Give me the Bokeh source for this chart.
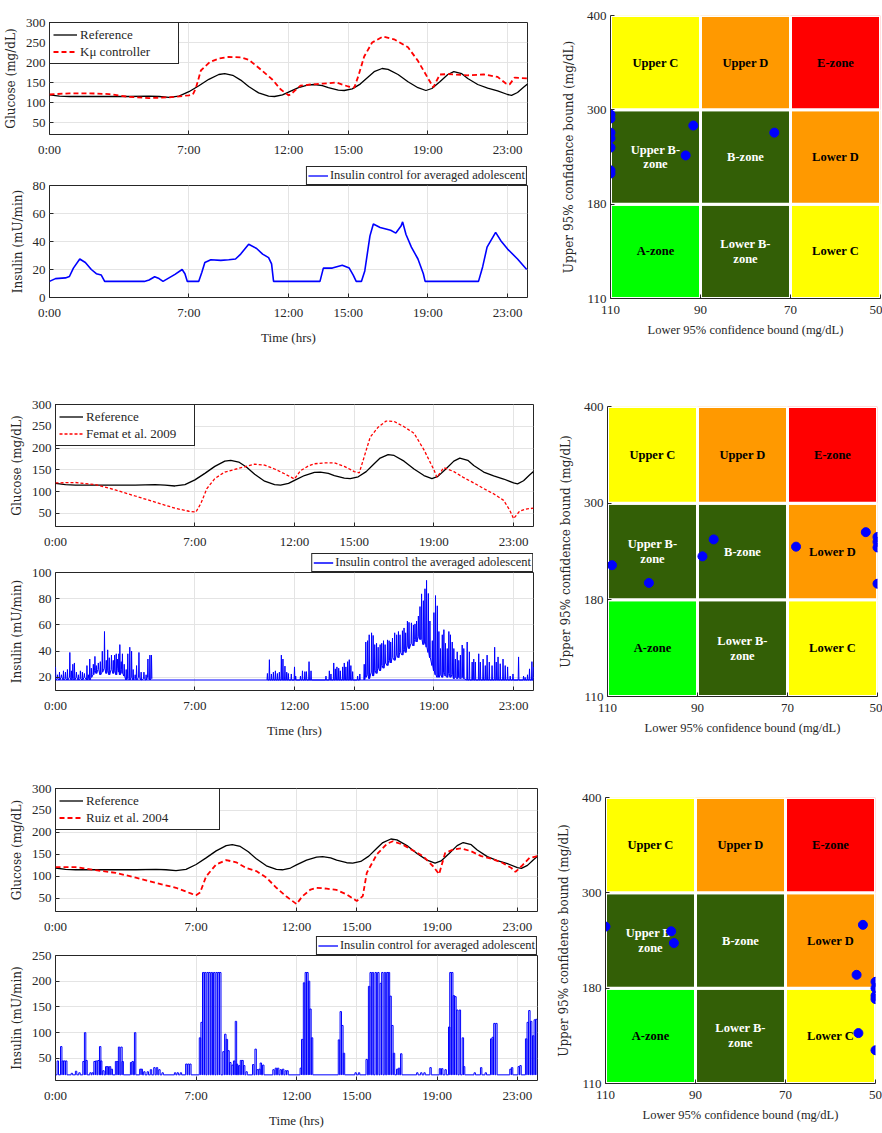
import numpy as np
from bokeh.plotting import figure
from bokeh.layouts import column, row
from bokeh.models import Range1d, FixedTicker, Legend, LegendItem
from bokeh.core.properties import value
from bokeh.embed import file_html
from bokeh.resources import INLINE

# ---------------------------------------------------------------- data
hour_ticks = [0, 7, 12, 15, 19, 23]
hour_labels = ["0:00", "7:00", "12:00", "15:00", "19:00", "23:00"]

# reference glucose trajectory (same in all three panels)
ref_t = [0, 0.5, 1, 2, 3, 4, 5, 5.5, 6, 6.5, 7, 7.5, 8, 8.5, 8.8, 9.2, 9.6, 10, 10.5, 11, 11.3, 11.7,
         12, 12.5, 13, 13.3, 13.7, 14, 14.5, 14.8, 15.2, 15.6, 16, 16.3, 16.7, 17, 17.5, 18, 18.5, 18.9,
         19.2, 19.6, 20, 20.3, 20.7, 21, 21.5, 22, 22.5, 23, 23.2, 23.5, 23.8, 24]
ref_g = [119, 116, 115, 115, 115, 115, 116, 115, 113, 116, 127, 142, 158, 170, 172, 168, 156, 140, 124, 116, 115, 119,
         126, 137, 144, 145, 142, 137, 131, 130, 134, 146, 164, 177, 185, 183, 170, 152, 137, 130,
         135, 152, 170, 177, 172, 160, 145, 136, 129, 120, 118, 125, 138, 146]

# K_mu controller
km_t = [0, 1, 2, 3, 4, 5, 6, 6.25, 7, 7.2, 7.35, 7.6, 8.05, 8.5, 9, 9.6, 10, 10.5, 11.2, 11.6, 12.0, 12.1,
        12.6, 13.1, 13.7, 14.4, 15.0, 15.3, 15.5, 15.8, 16.2, 16.75, 17.3, 18.0, 18.5, 19.0, 19.27, 19.6,
        20.0, 21.0, 21.8, 22.5, 22.9, 23.1, 23.35, 24]
km_g = [120, 123, 123, 121, 114, 111, 113, 114, 118, 120, 136, 180, 201, 210, 214, 213, 207, 187, 157, 133, 118, 120,
        142, 145, 147, 150, 140, 137, 165, 215, 250, 265, 258, 238, 204, 161, 138, 170,
        171, 168, 170, 164, 148, 145, 162, 160]

# Femat et al. 2009
fe_t = [0, 1, 2, 3, 4, 5, 6, 6.7, 7.05, 7.3, 7.6, 8, 8.5, 9, 9.5, 10, 10.5, 11, 11.5, 12, 12.3, 12.7, 13,
        13.5, 14, 14.5, 15, 15.25, 15.5, 15.8, 16.2, 16.6, 17, 17.5, 18, 18.5, 19, 19.15, 19.5, 20, 20.5,
        21, 21.5, 22, 22.5, 22.8, 23.0, 23.3, 23.6, 24]
fe_g = [120, 121, 116, 104, 90, 76, 62, 55, 53, 73, 107, 130, 145, 151, 157, 163, 161, 152, 141, 129, 148, 159, 164,
        166, 166, 158, 146, 143, 180, 225, 248, 262, 261, 249, 234, 196, 150, 133, 155, 146, 132,
        120, 107, 95, 80, 58, 38, 55, 60, 62]

# Ruiz et al. 2004
ru_t = [0, 1, 2, 3, 4, 5, 6, 6.8, 7.0, 7.2, 7.5, 8, 8.5, 9, 9.5, 10, 10.5, 11, 11.5, 12.0, 12.3, 12.7, 13,
        13.5, 14, 14.5, 15.0, 15.3, 15.5, 16, 16.5, 16.8, 17.3, 17.8, 18.3, 18.8, 19.1, 19.4, 19.8, 20.2,
        20.7, 21.2, 21.7, 22.2, 22.7, 22.9, 23.2, 23.6, 24]
ru_g = [121, 121, 114, 108, 97, 85, 74, 60, 57, 63, 100, 127, 137, 132, 119, 112, 97, 74, 54, 37, 55, 70, 74,
        72, 69, 59, 44, 55, 108, 150, 174, 180, 172, 159, 146, 123, 105, 153, 161, 164,
        157, 146, 140, 132, 119, 110, 123, 142, 146]

# insulin, panel 1 (smooth)
ins1_t = [0, 0.3, 0.8, 1.0, 1.2, 1.52, 1.8, 2.1, 2.35, 2.6, 2.77, 4.76, 5.0, 5.28, 5.5, 5.7, 6.0, 6.3, 6.66, 6.8,
          6.92, 7.49, 7.65, 7.8, 8.1, 8.6, 9.0, 9.34, 9.6, 10.0, 10.4, 10.7, 11.0, 11.15, 11.25, 13.58, 13.75,
          14.2, 14.7, 15.05, 15.25, 15.4, 15.66, 15.83, 16.09, 16.26, 16.6, 17.13, 17.39, 17.65, 17.73, 17.9,
          18.17, 18.5, 18.77, 18.86, 21.54, 21.75, 21.97, 22.4, 22.66, 23.0, 23.5, 23.96]
ins1_v = [11.5, 13.5, 14, 15, 21, 27.5, 25, 20, 17, 16, 11.5, 11.5, 12.5, 14.8, 13.5, 11.5, 14, 16.5, 20, 17,
          11.5, 11.5, 18, 25, 27, 26.5, 27, 27.5, 31, 38, 35, 31, 28.5, 24, 11.5, 11.5, 21,
          21, 23, 21, 16, 11.5, 11.5, 19, 44, 52.5, 50, 48, 46, 51, 54, 45,
          36, 27.5, 17, 11.5, 11.5, 22, 36, 46.5, 40.6, 34.6, 27.5, 20]

# insulin, panel 2 (oscillating): spike times, peaks and troughs
ins2a_t = [0.0, 0.1, 0.2, 0.3, 0.4, 0.5, 0.6, 0.72, 0.8, 0.87, 0.95, 1.05, 1.15, 1.25, 1.35, 1.45, 1.58, 1.65,
           1.72, 1.8, 1.9, 1.98, 2.05, 2.15, 2.25, 2.35, 2.46, 2.55, 2.62, 2.7, 2.81, 2.9, 2.97, 3.05, 3.12,
           3.18, 3.23, 3.3, 3.36, 3.45, 3.55, 3.63, 3.73, 3.82, 3.9, 4.0, 4.07, 4.19, 4.3, 4.44, 4.55, 4.64,
           4.74, 4.82]
ins2a_hi = [28, 22, 24, 22, 25, 24, 26, 39, 25, 30, 31, 24, 22, 25, 24, 23, 29, 22, 34, 27, 30, 36, 29, 31, 32,
            40, 55, 33, 41, 35, 37, 33, 37, 38, 34, 38, 45, 32, 38, 30, 26, 38, 43, 40, 26, 22, 29, 39, 24, 24,
            22, 34, 37, 37]
ins2a_lo = [18, 19, 18, 20, 18, 19, 18, 20, 18, 19, 18, 20, 18, 19, 18, 20, 18, 19, 18, 20,
            22, 25, 23, 26, 22, 24, 27, 23, 25, 22, 26, 23, 25, 22, 27, 24, 22, 26, 23, 21,
            18, 19, 18, 20, 18, 19, 18, 20, 18, 19, 18, 20, 18, 19]
ins2b_t = [10.64, 10.74, 10.84, 10.94, 11.04, 11.14, 11.24, 11.34, 11.42, 11.52, 11.61, 11.69, 11.84, 12.0,
           12.06, 12.3, 12.4, 12.52, 12.6, 12.73, 12.83,
           13.58, 13.75, 13.83, 13.97, 14.05, 14.13, 14.22, 14.3, 14.42, 14.5, 14.58, 14.67, 14.75, 14.83,
           14.92, 15.17, 15.28]
ins2b_hi = [23, 33.5, 22.6, 24, 25, 23, 24, 37, 34, 28.6, 24, 23, 22.6, 28, 21, 21, 25, 24.4, 24.4, 32, 25,
            21, 25, 22.6, 31, 26.5, 28, 27, 25, 28, 31, 28, 32, 33.5, 29, 24.4, 21, 22.6]
ins2b_lo = [18, 18, 18, 18, 18, 18, 18, 18, 18, 18, 18, 18, 18, 18, 18, 18, 18, 18, 18, 18, 18,
            18, 18, 18, 18, 18, 18, 18, 18, 18, 18, 18, 18, 18, 18, 18, 18, 18]
ins2c_t = [15.5, 15.58, 15.67, 15.75, 15.87, 15.95, 16.03, 16.12, 16.2, 16.3, 16.38, 16.47, 16.55, 16.67,
           16.75, 16.83, 16.92, 17.03, 17.13, 17.22, 17.3, 17.42, 17.5, 17.58, 17.67, 17.75, 17.87, 17.97,
           18.05, 18.13, 18.22, 18.3, 18.38, 18.47, 18.55, 18.63, 18.72, 18.8, 18.92, 19.0, 19.08, 19.17]
ins2c_hi = [30, 47, 48, 52.5, 54, 52, 45, 46, 43, 45, 46, 48, 45, 48.6, 48, 47, 50, 54, 52.5, 55, 52.5, 55.6,
            57.7, 54, 63, 62, 61.6, 60, 60.8, 63, 66.8, 74, 83.7, 78.5, 87.6, 94, 84, 63, 48, 69.4, 82.4, 74.6]
ins2c_lo = [18, 20, 22, 19, 24, 21, 25, 23, 27, 25, 29, 27, 31, 29, 33, 31, 35, 33, 37, 35, 39, 37, 41, 39,
            44, 42, 46, 44, 49, 47, 51, 49, 49, 45, 47, 43, 39, 35, 29, 25, 22, 20]
ins2d_t = [19.25, 19.33, 19.42, 19.5, 19.58, 19.67, 19.75, 19.83, 19.92, 20.0, 20.08, 20.17, 20.25, 20.33,
           20.42, 20.5, 20.67, 20.78, 20.92, 21.0, 21.08, 21.25, 21.33, 21.47, 21.58, 21.67, 21.78, 21.92,
           22.05, 22.13, 22.22, 22.33, 22.47, 22.58, 22.7, 22.83, 22.97, 23.25, 23.5, 23.58, 23.7, 23.8,
           23.92, 24.0]
ins2d_hi = [55, 42, 52.5, 56.4, 46, 42, 55, 52.5, 47, 42, 34, 39.5, 33, 37, 44.7, 42, 47, 39.5, 31.7, 34,
            31.7, 38, 31.7, 34, 29, 37, 31.7, 29, 43, 31.7, 35.6, 30.4, 34, 29, 28, 21, 22.6, 35.6, 21, 20,
            22, 26.5, 32, 28]
ins2d_lo = [20, 22, 20, 24, 21, 20, 23, 20, 22, 19, 20, 19, 20, 19, 20, 19, 18, 18, 18, 18, 18, 18, 18, 18,
            18, 18, 18, 18, 18, 18, 18, 18, 18, 18, 18, 18, 18, 18, 18, 18, 18, 18, 18, 18]
ins2_base = 18

# insulin, panel 3 (pulses): pulse start times and pulse heights
ins3_t = [0.08, 0.25, 0.33, 0.41, 0.50, 0.78, 0.99, 1.16, 1.36, 1.44, 1.51, 1.71, 1.82, 1.91, 1.99, 2.10, 2.19,
          2.24, 2.35, 2.49, 2.57, 2.68, 2.77, 2.98, 3.07, 3.13, 3.25, 3.31, 3.73, 3.81, 3.93, 4.19, 4.26, 4.39,
          4.56, 4.72, 4.89, 5.02, 5.14, 5.30, 5.92, 6.05, 6.21, 6.48, 6.58, 6.68, 7.16, 7.24, 7.32, 7.42,
          7.54, 7.64, 7.75, 7.87, 7.99, 8.09, 8.17, 8.33, 8.42, 8.50, 8.58, 8.67, 8.78, 8.86, 8.95, 9.00,
          9.11, 9.20, 9.28, 9.36, 9.48, 9.81, 9.93, 10.02, 10.12, 10.19, 10.31, 10.82, 10.94, 11.05, 11.18,
          11.30, 11.43, 11.52, 12.18, 12.25, 12.34, 12.43, 12.51, 12.59, 12.66, 12.74, 14.08, 14.17, 14.25,
          14.33, 14.91, 15.08, 15.46, 15.58, 15.66, 15.77, 15.91, 16.04, 16.16, 16.24, 16.37, 16.49, 16.57,
          16.65, 16.74, 16.82, 16.98, 17.07, 17.18, 17.98, 18.18, 18.34, 18.64, 19.11, 19.22, 19.39, 19.57,
          19.63, 19.72, 19.80, 19.88, 19.97, 20.10, 20.25, 20.31, 20.84, 21.16, 21.39, 21.66, 21.74, 21.82,
          21.92, 22.62, 22.70, 23.03, 23.12, 23.40, 23.48, 23.56, 23.65, 23.75, 23.83, 23.91]
ins3_v = [45, 73, 45, 45, 45, 21, 25, 22, 44, 100, 46, 22, 22, 44, 45, 46, 73, 45, 26, 34, 34, 34, 29, 44, 44,
          72, 72, 44, 42, 44, 100, 29, 29, 24, 24, 28, 32, 32, 28, 22, 22, 22, 22, 39, 39, 39, 90, 120, 217,
          217, 217, 217, 217, 217, 217, 217, 217, 63, 97, 87, 65, 42, 37, 45, 122, 39, 36, 46, 46, 36, 24, 38,
          68, 28, 29, 41, 37, 28, 31, 31, 28, 29, 26, 26, 31, 87, 197, 217, 217, 200, 146, 90, 86, 141, 114,
          60, 22, 22, 48, 190, 217, 217, 217, 217, 196, 217, 217, 217, 217, 171, 114, 60, 29, 31, 59, 22, 22,
          22, 32, 30, 30, 28, 111, 217, 217, 172, 170, 144, 144, 90, 34, 22, 32, 22, 88, 91, 118, 118, 29, 32,
          34, 36, 88, 120, 143, 122, 94, 125, 126]
ins3_base = 18

# CVGA
cvga_x_edges = [110, 90, 70, 50]
cvga_y_edges = [110, 180, 300, 400]
zone_names = ["A-zone", "Lower B-\nzone", "Lower C",
              "Upper B-\nzone", "B-zone", "Lower D",
              "Upper C", "Upper D", "E-zone"]
zone_colors = ["#00FF00", "#335F06", "#FFFF00",
               "#335F06", "#335F06", "#FF9900",
               "#FFFF00", "#FF9900", "#FF0000"]
zone_text_colors = ["black", "white", "black",
                    "white", "white", "black",
                    "black", "black", "black"]

cv1_x = [110, 110, 110, 110, 110, 110, 110, 91.6, 93.3, 73.6]
cv1_y = [294, 289, 271, 264, 252, 223, 219, 280, 242, 271]
cv2_x = [109.0, 100.8, 88.9, 86.4, 68.1, 52.6, 50, 50, 50, 50]
cv2_y = [223, 201, 234, 255, 246, 264, 258, 252, 245, 200]
cv3_x = [110, 95.4, 94.8, 52.8, 54.2, 50, 50, 50, 50, 53.8, 50]
cv3_y = [257.5, 251.6, 236.8, 259.7, 196.8, 188, 180, 174.4, 172, 147, 134.4]

# ---------------------------------------------------------------- style
SERIF = "Liberation Serif"
LABFONT = "DejaVu Serif"
INK = "#262626"
GRID = "#e4e4e4"
BLUE = "#0000FF"
OVERLAP = 8   # insulin panel's top border slides under the legend strip


def style_axis(ax, size="13px"):
    ax.axis_line_color = None
    ax.major_tick_in = 4
    ax.major_tick_out = 0
    ax.major_tick_line_color = INK
    ax.minor_tick_line_color = None
    ax.major_label_text_font = SERIF
    ax.major_label_text_font_size = size
    ax.major_label_text_color = INK


def ts_fig(width, height, left, right, top, bottom, y0, y1, yticks, ylabel, xlabel=None):
    p = figure(width=width, height=height, x_range=Range1d(0, 24), y_range=Range1d(y0, y1),
               output_backend="svg", toolbar_location=None,
               min_border_left=left, min_border_right=right,
               min_border_top=top, min_border_bottom=bottom)
    p.background_fill_color = "white"
    p.border_fill_color = "white"
    p.outline_line_color = INK
    p.outline_line_width = 1
    p.outline_line_alpha = 1
    p.xaxis.ticker = FixedTicker(ticks=hour_ticks)
    p.xaxis.major_label_overrides = dict(zip(hour_ticks, hour_labels))
    p.yaxis.ticker = FixedTicker(ticks=yticks)
    style_axis(p.xaxis[0])
    style_axis(p.yaxis[0])
    p.xaxis.major_label_standoff = 7
    p.yaxis.major_label_standoff = 4
    p.yaxis.axis_label = ylabel
    p.yaxis.axis_label_text_font = LABFONT
    p.yaxis.axis_label_text_font_size = "12px"
    p.yaxis.axis_label_text_font_style = "normal"
    p.yaxis.axis_label_text_color = INK
    p.yaxis.axis_label_standoff = 5
    if xlabel:
        p.xaxis.axis_label = xlabel
        p.xaxis.axis_label_text_font = SERIF
        p.xaxis.axis_label_text_font_size = "13px"
        p.xaxis.axis_label_text_font_style = "normal"
        p.xaxis.axis_label_text_color = INK
        p.xaxis.axis_label_standoff = 7
    p.xgrid.grid_line_color = GRID
    p.ygrid.grid_line_color = GRID
    return p


def insulin_fig(width, height, left, right, bottom, y0, y1, yticks):
    p = ts_fig(width, height, left, right, OVERLAP, bottom, y0, y1, yticks, "Insulin (mU/min)", "Time (hrs)")
    p.border_fill_alpha = 0
    try:
        p.margin = (-OVERLAP, 0, 0, 0)
    except Exception:
        pass
    return p


def glucose_panel(width, height, left, right, top, bottom, ctrl_t, ctrl_g, ctrl_label, dash, lw, label_w):
    p = ts_fig(width, height, left, right, top, bottom, 20, 300, [50, 100, 150, 200, 250, 300],
               "Glucose (mg/dL)")
    r_ref = p.line(ref_t, ref_g, line_color="black", line_width=1.3)
    r_ctl = p.line(ctrl_t, ctrl_g, line_color="#FF0000", line_width=lw, line_dash=dash)
    leg = Legend(items=[LegendItem(label="Reference", renderers=[r_ref]),
                        LegendItem(label=ctrl_label, renderers=[r_ctl])],
                 location="top_left", margin=0, padding=3, spacing=0,
                 border_line_color=INK, border_line_width=1, border_line_alpha=1,
                 background_fill_color="white", background_fill_alpha=1,
                 label_text_font=SERIF, label_text_font_size="13px", label_text_color=INK,
                 glyph_width=24, glyph_height=17, label_height=17, label_standoff=3, label_width=label_w)
    p.add_layout(leg)
    return p


def legend_strip(width, height, left, right, text, series_t, series_v):
    """A thin strip right above an insulin panel that carries its legend box.
    The series is plotted here only to give the legend its glyph; it lies outside this strip's range."""
    p = figure(width=width, height=height, x_range=Range1d(0, 24), y_range=Range1d(-2, -1),
               output_backend="svg", toolbar_location=None,
               x_axis_location=None, y_axis_location=None,
               min_border_left=left, min_border_right=right, min_border_top=0, min_border_bottom=0)
    p.outline_line_color = None
    p.background_fill_color = "white"
    p.border_fill_color = "white"
    for g in p.grid:
        g.visible = False
    r = p.line(series_t, series_v, line_color=BLUE, line_width=1.3)
    leg = Legend(items=[LegendItem(label=text, renderers=[r])],
                 location="bottom_right", margin=0, padding=1, spacing=0,
                 border_line_color=INK, border_line_width=1, border_line_alpha=1,
                 background_fill_color="white", background_fill_alpha=1,
                 label_text_font=SERIF, label_text_font_size="12.5px", label_text_color=INK,
                 glyph_width=20, glyph_height=13, label_height=13, label_standoff=2)
    p.add_layout(leg)
    return p


def spike_path(ts, his, los, d=0.02):
    xs, ys = [], []
    for t, h, l in zip(ts, his, los):
        xs += [t - d, t, t + d]
        ys += [l, h, l]
    return xs, ys


def pulse_path(ts, vs, base, w=0.07):
    xs, ys = [0], [base]
    for t, v in zip(ts, vs):
        xs += [t, t, t + w, t + w]
        ys += [base, v, v, base]
    xs.append(24)
    ys.append(base)
    return xs, ys


def cvga_fig(width, height, left, right, top, bottom, px, py):
    p = figure(width=width, height=height, x_range=Range1d(110, 50), y_range=Range1d(0, 3),
               output_backend="svg", toolbar_location=None,
               min_border_left=left, min_border_right=right,
               min_border_top=top, min_border_bottom=bottom)
    p.outline_line_color = None
    p.grid.grid_line_color = None
    yidx = list(range(len(cvga_y_edges)))

    def warp(v):
        return np.interp(v, cvga_y_edges, yidx)

    L, R, B, T, CX, CY = [], [], [], [], [], []
    for k in range(9):
        rr, cc = divmod(k, 3)
        L.append(cvga_x_edges[cc]); R.append(cvga_x_edges[cc + 1])
        B.append(warp(cvga_y_edges[rr])); T.append(warp(cvga_y_edges[rr + 1]))
        CX.append((cvga_x_edges[cc] + cvga_x_edges[cc + 1]) / 2)
        CY.append((warp(cvga_y_edges[rr]) + warp(cvga_y_edges[rr + 1])) / 2)
    p.quad(left=L, right=R, bottom=B, top=T, fill_color=zone_colors, line_color="white", line_width=3)
    p.text(x=CX, y=CY, text=zone_names, text_color=zone_text_colors, text_font=value(SERIF),
           text_font_style="bold", text_font_size="12.5px", text_align="center", text_baseline="middle",
           text_line_height=1.05)
    p.scatter(x=px, y=warp(np.array(py)), size=9, fill_color=BLUE, line_color=BLUE)

    p.xaxis.ticker = FixedTicker(ticks=cvga_x_edges)
    p.yaxis.ticker = FixedTicker(ticks=yidx)
    p.yaxis.major_label_overrides = {i: str(v) for i, v in zip(yidx, cvga_y_edges)}
    for ax in (p.xaxis[0], p.yaxis[0]):
        style_axis(ax)
        ax.axis_line_color = INK
        ax.axis_line_width = 1
    p.xaxis.major_label_standoff = 7
    p.yaxis.major_label_standoff = 4
    p.xaxis.axis_label = "Lower 95% confidence bound (mg/dL)"
    p.xaxis.axis_label_text_font = SERIF
    p.xaxis.axis_label_text_font_size = "12.5px"
    p.xaxis.axis_label_text_font_style = "normal"
    p.xaxis.axis_label_text_color = INK
    p.xaxis.axis_label_standoff = 6
    p.yaxis.axis_label = "Upper 95% confidence bound (mg/dL)"
    p.yaxis.axis_label_text_font = LABFONT
    p.yaxis.axis_label_text_font_size = "12px"
    p.yaxis.axis_label_text_font_style = "normal"
    p.yaxis.axis_label_text_color = INK
    p.yaxis.axis_label_standoff = 8
    return p


# ---------------------------------------------------------------- row 1  (0 .. 352)
g1 = glucose_panel(550, 165, 48, 23, 22, 31, km_t, km_g, "K\u03bc controller", "5 3", 1.8, 95)
s1 = legend_strip(550, 20, 48, 23, "Insulin control for averaged adolescent", ins1_t, ins1_v)
i1 = insulin_fig(550, OVERLAP + 112 + 55, 48, 23, 55, 0, 80, [0, 20, 40, 60, 80])
i1.line(ins1_t, ins1_v, line_color=BLUE, line_width=1.6)
c1 = cvga_fig(332, 352, 60, 2, 15, 54, cv1_x, cv1_y)

# ---------------------------------------------------------------- row 2  (352 .. 740)
g2 = glucose_panel(550, 201, 55, 17, 52, 27, fe_t, fe_g, "Femat et al. 2009", "3 2", 1.3, 105)
s2 = legend_strip(550, 19, 55, 17, "Insulin control the averaged adolescent", ins2c_t, ins2c_hi)
i2 = insulin_fig(550, OVERLAP + 118 + 50, 55, 17, 50, 10, 100, [20, 40, 60, 80, 100])
i2.line([0, 24], [ins2_base, ins2_base], line_color=BLUE, line_width=1)
for tt, hh, ll in ((ins2a_t, ins2a_hi, ins2a_lo), (ins2b_t, ins2b_hi, ins2b_lo),
                   (ins2c_t, ins2c_hi, ins2c_lo), (ins2d_t, ins2d_hi, ins2d_lo)):
    xs, ys = spike_path(tt, hh, ll)
    i2.line(xs, ys, line_color=BLUE, line_width=1)
c2 = cvga_fig(332, 388, 57, 5, 54, 44, cv2_x, cv2_y)

# ---------------------------------------------------------------- row 3  (740 .. 1133)
g3 = glucose_panel(550, 196, 55, 13, 48, 21, ru_t, ru_g, "Ruiz et al. 2004", "5 3", 1.8, 130)
s3 = legend_strip(550, 19, 55, 13, "Insulin control for averaged adolescent", ins3_t, ins3_v)
i3 = insulin_fig(550, OVERLAP + 125 + 53, 55, 13, 53, 7, 250, [50, 100, 150, 200, 250])
xs3, ys3 = pulse_path(ins3_t, ins3_v, ins3_base)
i3.line(xs3, ys3, line_color=BLUE, line_width=1)
c3 = cvga_fig(332, 393, 55, 7, 57, 50, cv3_x, cv3_y)

layout = column(
    row(column(g1, s1, i1, spacing=0), c1, spacing=0),
    row(column(g2, s2, i2, spacing=0), c2, spacing=0),
    row(column(g3, s3, i3, spacing=0), c3, spacing=0),
    spacing=0,
)

open("out.html", "w").write(file_html(layout, INLINE))
